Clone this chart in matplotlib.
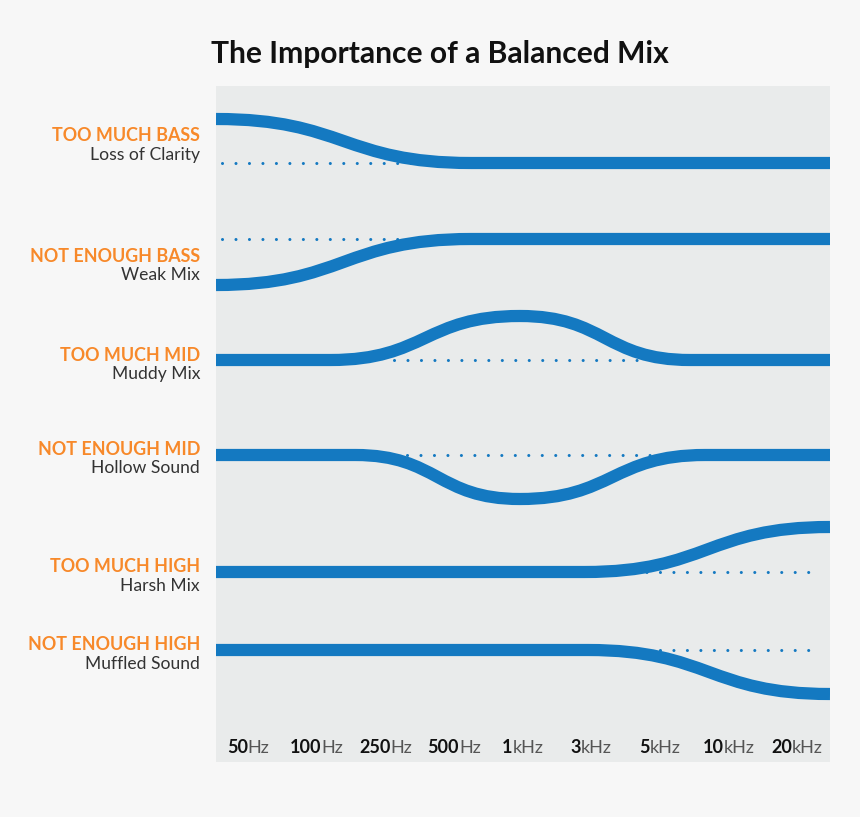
import matplotlib
matplotlib.use('Agg')
import matplotlib.pyplot as plt
import matplotlib.transforms as mtransforms
from matplotlib.path import Path
from matplotlib.patches import PathPatch

plt.rcParams['font.family'] = ['Lato', 'DejaVu Sans']

# frequency ticks (x position = tick index)
tick_nums = ['50', '100', '250', '500', '1', '3', '5', '10', '20']
tick_units = ['Hz', 'Hz', 'Hz', 'Hz', 'kHz', 'kHz', 'kHz', 'kHz', 'kHz']

# row labels
titles = ['TOO MUCH BASS', 'NOT ENOUGH BASS', 'TOO MUCH MID',
          'NOT ENOUGH MID', 'TOO MUCH HIGH', 'NOT ENOUGH HIGH']
subtitles = ['Loss of Clarity', 'Weak Mix', 'Muddy Mix',
             'Hollow Sound', 'Harsh Mix', 'Muffled Sound']
title_y = [140.7, 261.7, 360.7, 455, 571.7, 650]
sub_y = [160, 280, 379, 472.7, 590.7, 668.7]

# curve key points (x in tick units, y in level units, top = small)
curve1 = [(-0.47, 119), (3.25, 163), (8.48, 163)]
curve2 = [(-0.47, 285), (3.25, 239), (8.48, 239)]
curve3 = [(-0.47, 360), (1.2, 360), (3.96, 316), (6.44, 360), (8.48, 360)]
curve4 = [(-0.47, 455), (1.56, 455), (3.96, 499), (6.66, 455), (8.48, 455)]
curve5 = [(-0.47, 572), (4.9, 572), (8.48, 527)]
curve6 = [(-0.47, 650), (4.95, 650), (8.48, 694)]
curves = [curve1, curve2, curve3, curve4, curve5, curve6]

# dotted reference lines: (x start, x end, level)
ref1 = (-0.38, 2.45, 163)
ref2 = (-0.38, 2.45, 239)
ref3 = (2.13, 5.85, 360)
ref4 = (2.32, 6.03, 455)
ref5 = (5.61, 8.35, 572)
ref6 = (5.61, 8.35, 650)
refs = [ref1, ref2, ref3, ref4, ref5, ref6]

blue = '#1479c1'
orange = '#f7892a'
grey = '#333333'

fig = plt.figure(figsize=(8.6, 8.17), dpi=100, facecolor='#f7f7f7')
W, H = 860, 817
ax = fig.add_axes([216 / W, 1 - 762 / H, (830 - 216) / W, (762 - 86) / H])
ax.set_facecolor('#e9ebeb')
ax.set_xlim(-0.47, 8.48)
ax.set_ylim(762, 86)
for s in ax.spines.values():
    s.set_visible(False)
ax.set_xticks([])
ax.set_yticks([])


def smooth_path(pts, k=0.5):
    verts = [pts[0]]
    codes = [Path.MOVETO]
    for (x0, y0), (x1, y1) in zip(pts[:-1], pts[1:]):
        dx = x1 - x0
        verts += [(x0 + k * dx, y0), (x1 - k * dx, y1), (x1, y1)]
        codes += [Path.CURVE4] * 3
    return Path(verts, codes)


for x0, x1, y in refs:
    ax.plot([x0, x1], [y, y], color=blue, lw=2.2,
            linestyle=(0, (0.01, 4.4)), dash_capstyle='round', zorder=1)

for c in curves:
    ax.add_patch(PathPatch(smooth_path(c), facecolor='none', edgecolor=blue,
                           lw=8.8, capstyle='butt', joinstyle='round', zorder=2))

# row labels
lab_tr = mtransforms.blended_transform_factory(ax.transAxes, ax.transData)
for t, s, ty, sy in zip(titles, subtitles, title_y, sub_y):
    ax.annotate(t, xy=(0, ty), xycoords=lab_tr, xytext=(-16 * 0.72, 0),
                textcoords='offset points', ha='right', va='baseline',
                fontsize=12.9, fontweight='bold', color=orange,
                annotation_clip=False)
    ax.annotate(s, xy=(0, sy), xycoords=lab_tr, xytext=(-16 * 0.72, 0),
                textcoords='offset points', ha='right', va='baseline',
                fontsize=12.6, fontweight='normal', color=grey,
                annotation_clip=False)

# frequency labels: bold number + lighter unit, centred on the tick
r = fig.canvas.get_renderer()
for i, (n, u) in enumerate(zip(tick_nums, tick_units)):
    tn = ax.text(i, 753, n, fontsize=13, fontweight='bold', color='#111111',
                 ha='left', va='baseline')
    tu = ax.text(i, 753, u, fontsize=13, fontweight='normal', color='#555555',
                 ha='left', va='baseline')
    wn = tn.get_window_extent(r).width
    wu = tu.get_window_extent(r).width
    tn.set_transform(mtransforms.offset_copy(ax.transData, fig,
                                             x=-(wn + wu) / 2, units='dots'))
    tu.set_transform(mtransforms.offset_copy(ax.transData, fig,
                                             x=-(wn + wu) / 2 + wn, units='dots'))

fig.text(440 / W, 1 - 62.7 / H, 'The Importance of a Balanced Mix',
         ha='center', va='baseline', fontsize=21.6, fontweight='bold',
         color='#111111')

fig.savefig('out.png', dpi=100, facecolor=fig.get_facecolor())
